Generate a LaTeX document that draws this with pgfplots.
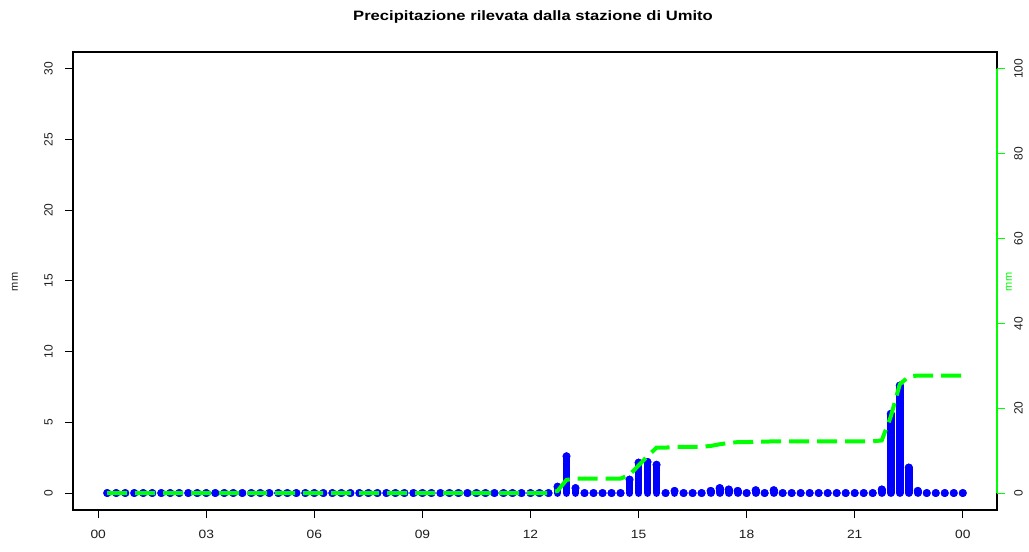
\documentclass[border=0pt]{standalone}
\usepackage{pgfplots}
\usepackage{pgfplotstable}
\pgfplotsset{compat=1.18}
\usepackage{fontspec}
\setmainfont{Liberation Sans}
\newfontfamily\widefont[FakeStretch=1.15]{Liberation Sans}
\newfontfamily\titlefont[FakeStretch=1.22]{Liberation Sans}
\definecolor{rblue}{RGB}{0,0,255}
\definecolor{rgreen}{RGB}{0,255,0}
\definecolor{labgray}{RGB}{30,30,30}

\pgfplotstableread{
t r c
0.25 0 0
0.5 0 0
0.75 0 0
1.0 0 0
1.25 0 0
1.5 0 0
1.75 0 0
2.0 0 0
2.25 0 0
2.5 0 0
2.75 0 0
3.0 0 0
3.25 0 0
3.5 0 0
3.75 0 0
4.0 0 0
4.25 0 0
4.5 0 0
4.75 0 0
5.0 0 0
5.25 0 0
5.5 0 0
5.75 0 0
6.0 0 0
6.25 0 0
6.5 0 0
6.75 0 0
7.0 0 0
7.25 0 0
7.5 0 0
7.75 0 0
8.0 0 0
8.25 0 0
8.5 0 0
8.75 0 0
9.0 0 0
9.25 0 0
9.5 0 0
9.75 0 0
10.0 0 0
10.25 0 0
10.5 0 0
10.75 0 0
11.0 0 0
11.25 0 0
11.5 0 0
11.75 0 0
12.0 0 0
12.25 0 0
12.5 0 0
12.75 0.45 0.5
13.0 2.6 3.1
13.25 0.35 3.4
13.5 0 3.4
13.75 0 3.4
14.0 0 3.4
14.25 0 3.4
14.5 0 3.4
14.75 0.95 4.3
15.0 2.15 6.5
15.25 2.2 8.7
15.5 2.0 10.7
15.75 0 10.7
16.0 0.15 10.9
16.25 0 10.9
16.5 0 10.9
16.75 0 10.9
17.0 0.15 11.1
17.25 0.35 11.5
17.5 0.25 11.8
17.75 0.15 12.0
18.0 0 12.0
18.25 0.2 12.1
18.5 0 12.1
18.75 0.2 12.2
19.0 0 12.2
19.25 0 12.2
19.5 0 12.2
19.75 0 12.2
20.0 0 12.2
20.25 0 12.2
20.5 0 12.2
20.75 0 12.2
21.0 0 12.2
21.25 0 12.2
21.5 0 12.2
21.75 0.25 12.4
22.0 5.6 18.0
22.25 7.6 25.6
22.5 1.8 27.5
22.75 0.15 27.7
23.0 0 27.7
23.25 0 27.7
23.5 0 27.7
23.75 0 27.7
24.0 0 27.7
}\data

\begin{document}
\begin{tikzpicture}
\useasboundingbox[fill=white] (-73bp,-42bp) rectangle (956bp,510bp);
\begin{axis}[
  at={(0,0)}, anchor=south west,
  scale only axis, width=924bp, height=458bp,
  xmin=-0.7, xmax=24.95, ymin=-1.2, ymax=31.2,
  axis line style={black, line width=1.1bp},
  xtick={0,3,6,9,12,15,18,21,24},
  xticklabels={00,03,06,09,12,15,18,21,00},
  ytick={0,5,10,15,20,25,30},
  xtick pos=bottom, ytick pos=left,
  tick align=outside,
  major tick length=8bp,
  tick style={black, line width=1bp},
  /pgf/number format/assume math mode=true,
  xticklabel style={anchor=north, inner sep=0pt, text=labgray,
    font=\widefont\fontsize{12bp}{12bp}\selectfont},
  xticklabel shift=12bp,
  yticklabel style={rotate=90, anchor=south, inner sep=0pt, text=labgray,
    font=\fontsize{12bp}{12bp}\selectfont},
  yticklabel shift=12bp,
  clip=false,
]
\addplot[rblue, ycomb, line width=7.8bp, line cap=round,
  mark=*, mark size=3.9bp, mark options={fill=rblue, draw=rblue, line width=0.1bp}]
  table[x=t, y=r] {\data};
\end{axis}
\begin{axis}[
  at={(0,0)}, anchor=south west,
  scale only axis, width=924bp, height=458bp,
  xmin=-0.7, xmax=24.95, ymin=-4, ymax=104,
  axis x line=none, axis y line*=right,
  y axis line style={draw=none},
  ytick={0,20,40,60,80,100},
  tick align=outside,
  major tick length=8bp,
  ytick style={rgreen, line width=1bp},
  /pgf/number format/assume math mode=true,
  yticklabel style={rotate=90, anchor=north, inner sep=0pt, text=labgray,
    font=\fontsize{12bp}{12bp}\selectfont},
  yticklabel shift=9bp,
  clip=false,
]
\draw[rgreen, line width=1.2bp] (axis cs:24.95,0) -- (axis cs:24.95,100);
\addplot[rgreen, line width=4bp, dash pattern=on 20bp off 8bp]
  table[x=t, y=c] {\data};
\end{axis}
\node[rotate=90, font=\fontsize{11bp}{11bp}\selectfont, text=labgray] at (-58bp,228bp) {mm};
\node[rotate=90, font=\fontsize{11bp}{11bp}\selectfont, text=rgreen] at (936bp,228bp) {mm};
\node[font=\titlefont\bfseries\fontsize{13.6bp}{16bp}\selectfont, text=black] at (460bp,493bp) {Precipitazione rilevata dalla stazione di Umito};
\end{tikzpicture}
\end{document}
